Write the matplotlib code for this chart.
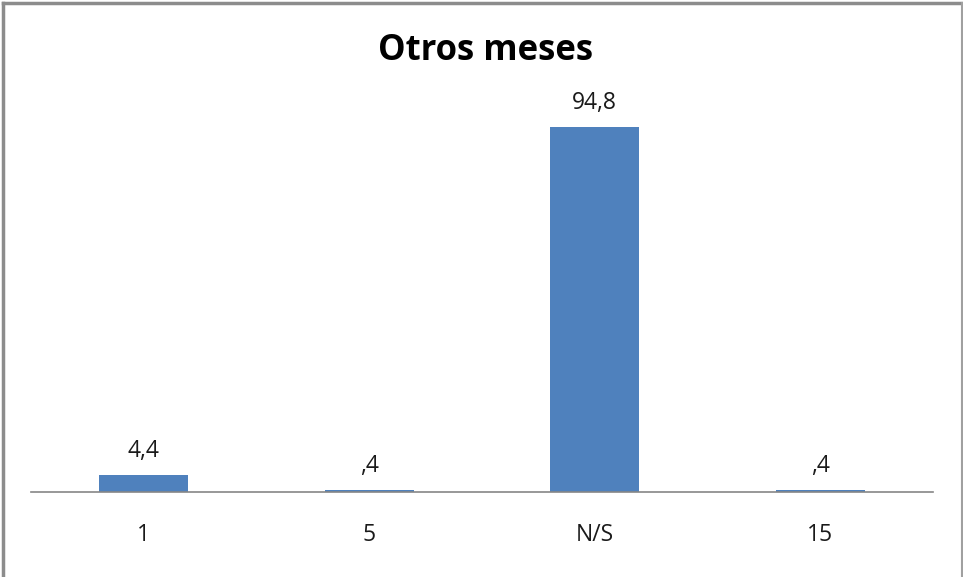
import matplotlib
matplotlib.use("agg")
import matplotlib.pyplot as plt
from matplotlib.lines import Line2D

# Data
categories = ["1", "5", "N/S", "15"]
values = [4.4, 0.4, 94.8, 0.4]
value_labels = ["4,4", ",4", "94,8", ",4"]
title = "Otros meses"

plt.rcParams['font.family'] = ['Open Sans', 'DejaVu Sans']

fig = plt.figure(figsize=(9.63, 5.77), dpi=100)
ax = fig.add_axes([31 / 963, 1 - 492 / 577, 902 / 963, 385 / 577])

x = range(len(categories))
bars = ax.bar(x, values, width=0.395, color="#4F81BD")

ax.set_xlim(-0.5, len(categories) - 0.5)
ax.set_ylim(0, 100)

# Value labels
for b, lab in zip(bars, value_labels):
    ax.annotate(lab, (b.get_x() + b.get_width() / 2, b.get_height()),
                xytext=(0, 17.5), textcoords="offset points",
                ha="center", va="center", fontsize=16.5, color="#1a1a1a")

# Axis formatting
ax.set_xticks(list(x))
ax.set_xticklabels(categories, fontsize=16.5, color="#1a1a1a")
for lab in ax.get_xticklabels():
    lab.set_va("center")
ax.tick_params(axis="x", length=0, pad=31)
ax.set_yticks([])
for s in ["top", "left", "right"]:
    ax.spines[s].set_visible(False)
ax.spines["bottom"].set_color("#868686")
ax.spines["bottom"].set_linewidth(1.2)

# Title
fig.text(486 / 963, 1 - 51 / 577, title, ha="center", va="center",
         fontsize=25, fontweight="bold", color="black")

# Outer frame (left, top, right)
fig.add_artist(Line2D([3 / 963, 3 / 963], [0, 1 - 3 / 577], color="#8c8c8c", lw=2.5,
                      transform=fig.transFigure))
fig.add_artist(Line2D([3 / 963, 962 / 963], [1 - 3 / 577, 1 - 3 / 577], color="#8c8c8c", lw=2.5,
                      transform=fig.transFigure))
fig.add_artist(Line2D([962 / 963, 962 / 963], [0, 1 - 3 / 577], color="#a0a0a0", lw=1.5,
                      transform=fig.transFigure))

fig.savefig("out.png", dpi=100)
